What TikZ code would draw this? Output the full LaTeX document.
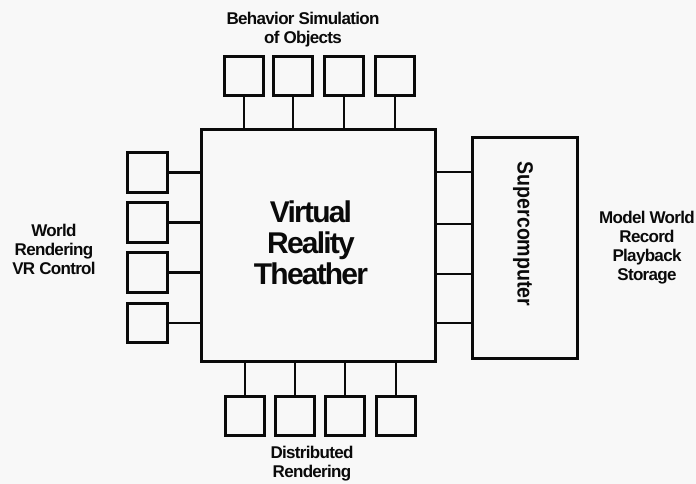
\documentclass[tikz,border=0pt]{standalone}
\usepackage{fontspec}
\setmainfont{Liberation Sans}
\newfontfamily\lblfont[LetterSpace=-4]{Liberation Sans}
\newfontfamily\bigfont[LetterSpace=-6]{Liberation Sans}
\definecolor{bgc}{RGB}{248,248,248}
\definecolor{ink}{RGB}{10,10,10}
\tikzset{
  unitbox/.style={draw=ink, line width=3pt, minimum width=39.5pt, minimum height=39.5pt, inner sep=0pt},
  bigbox/.style={draw=ink, line width=3pt, inner sep=0pt},
  link/.style={draw=ink, line width=2.8pt},
  lbl/.style={align=center, inner sep=0pt, text=ink, font=\lblfont\bfseries\fontsize{17}{19}\selectfont}
}
\begin{document}
\begin{tikzpicture}[x=1pt, y=-1pt]
\useasboundingbox[fill=bgc] (0,0) rectangle (696,484);
% main box
\node[bigbox, minimum width=234pt, minimum height=232pt] (main) at (318.5,245.3) {};
\node[align=center, inner sep=0pt, text=ink, font=\bigfont\bfseries\fontsize{30}{31}\selectfont] (vrt) at (311,243) {Virtual\\Reality\\Theather};
% supercomputer
\node[bigbox, minimum width=105.5pt, minimum height=221.5pt] (sc) at (525,248) {};
\node[rotate=-90, inner sep=0pt, text=ink, font=\bfseries\fontsize{22}{24}\selectfont] (sct) at (523,234) {\scalebox{0.89}[1]{Supercomputer}};
% top boxes
\foreach \i/\x in {1/244,2/293,3/344,4/395}{
  \node[unitbox] (t\i) at (\x,76) {};
  \draw[link] (t\i.south) -- (t\i.south |- main.north);
}
% bottom boxes
\foreach \i/\x in {1/245,2/295,3/345,4/396}{
  \node[unitbox] (b\i) at (\x,416) {};
  \draw[link] (b\i.north) -- (b\i.north |- main.south);
}
% left boxes
\foreach \i/\y in {1/172.5,2/222.5,3/272.5,4/323}{
  \node[unitbox] (l\i) at (147.5,\y) {};
  \draw[link] (l\i.east) -- (l\i.east -| main.west);
}
% right links
\foreach \i/\y in {1/172,2/224,3/274,4/323}{
  \coordinate (r\i) at (437,\y);
  \draw[link] (r\i -| main.east) -- (r\i -| sc.west);
}
% labels
\node[lbl] (ltop) at (303,30) {Behavior Simulation\\of Objects};
\node[lbl] (lbot) at (312,464) {Distributed\\Rendering};
\node[lbl] (lleft) at (54,249) {World\\Rendering\\VR Control};
\node[lbl] (lright) at (647,248) {Model World\\Record\\Playback\\Storage};
\end{tikzpicture}
\end{document}
